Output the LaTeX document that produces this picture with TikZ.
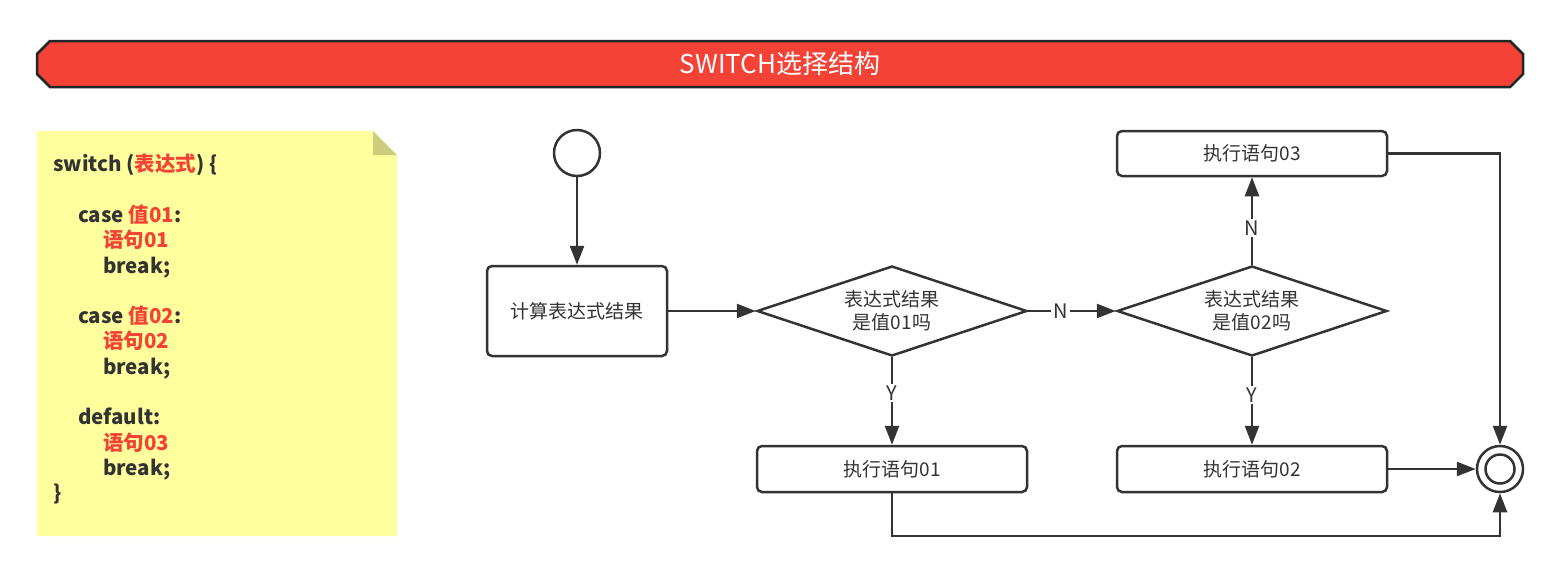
\documentclass[tikz,border=0pt]{standalone}
\usepackage{fontspec}
\setmainfont{Noto Sans CJK SC}
\usetikzlibrary{arrows.meta,shapes.geometric}
\definecolor{linegray}{HTML}{333333}
\definecolor{bannerred}{HTML}{F44336}
\definecolor{bannerline}{HTML}{1F272B}
\definecolor{noteyellow}{HTML}{FFFF9E}
\definecolor{notefold}{HTML}{CCCC7A}
\newcommand{\redtxt}[1]{\textcolor{bannerred}{#1}}

\begin{document}
\begin{tikzpicture}[x=1pt,y=-1pt,
    flow/.style={draw=linegray,line width=2.5pt,-{Triangle[length=19pt,width=14pt]}},
    stepbox/.style={draw=linegray,line width=2.5pt,rounded corners=5pt,minimum width=270pt,minimum height=46pt,inner sep=0pt,text=linegray,font=\fontsize{19}{23}\selectfont},
    choice/.style={diamond,aspect=3,draw=linegray,line width=2.5pt,minimum width=270pt,minimum height=90pt,inner sep=0pt,align=center,text=linegray,font=\fontsize{19}{23}\selectfont},
    startdot/.style={circle,draw=linegray,line width=2.5pt,minimum size=46pt,inner sep=0pt},
    stopcore/.style={circle,draw=linegray,line width=2.5pt,minimum size=29pt,inner sep=0pt},
    lbl/.style={fill=white,inner sep=2pt,text=linegray,font=\fontsize{20}{22}\selectfont}]
    \pgfmathsetmacro{\chamfer}{13}
    \pgfmathsetmacro{\codeindent}{25}
    \pgfmathsetmacro{\codeindentb}{50}
    \useasboundingbox (0,0) rectangle (1560,582);
    % banner
    \filldraw[fill=bannerred,draw=bannerline,line width=2.5pt] (37,41+\chamfer) -- (37+\chamfer,41) -- (1523-\chamfer,41) -- (1523,41+\chamfer) -- (1523,87-\chamfer) -- (1523-\chamfer,87) -- (37+\chamfer,87) -- (37,87-\chamfer) -- cycle;
    \node[text=white,font=\fontsize{26}{30}\selectfont] (title) at (780,64) {SWITCH选择结构};
    % note
    \fill[noteyellow] (37,131) -- (373,131) -- (397,155) -- (397,536) -- (37,536) -- cycle;
    \fill[notefold] (373,131) -- (397,155) -- (373,155) -- cycle;
    \node[anchor=north west,inner sep=0pt,align=left,text=linegray,font=\fontsize{20.5}{25.3}\selectfont\bfseries] (code) at (53,154) {
        switch (\redtxt{表达式}) \{\\
        \mbox{}\\
        \hspace*{\codeindent pt}case \redtxt{值01}:\\
        \hspace*{\codeindentb pt}\redtxt{语句01}\\
        \hspace*{\codeindentb pt}break;\\
        \mbox{}\\
        \hspace*{\codeindent pt}case \redtxt{值02}:\\
        \hspace*{\codeindentb pt}\redtxt{语句02}\\
        \hspace*{\codeindentb pt}break;\\
        \mbox{}\\
        \hspace*{\codeindent pt}default:\\
        \hspace*{\codeindentb pt}\redtxt{语句03}\\
        \hspace*{\codeindentb pt}break;\\
        \}};
    % flow
    \node[startdot] (start) at (577,153) {};
    \node[stepbox,minimum width=180pt,minimum height=90pt] (calc) at (577,311) {计算表达式结果};
    \node[choice] (ask1) at (892,311) {表达式结果\\是值01吗};
    \node[choice] (ask2) at (1252,311) {表达式结果\\是值02吗};
    \node[stepbox] (run1) at (892,469) {执行语句01};
    \node[stepbox] (run2) at (1252,469) {执行语句02};
    \node[stepbox,minimum height=45pt] (run3) at (1252,153.5) {执行语句03};
    \node[startdot] (stop) at (1500,469) {};
    \node[stopcore] (core) at (stop) {};
    \coordinate (back) at (1500,536);
    \draw[flow] (start) -- (calc);
    \draw[flow] (calc) -- (ask1);
    \draw[flow] (ask1) -- node[lbl,pos=0.37] {N} (ask2);
    \draw[flow] (ask1) -- node[lbl,pos=0.41] {Y} (run1);
    \draw[flow] (ask2) -- node[lbl,pos=0.42] {N} (run3);
    \draw[flow] (ask2) -- node[lbl,pos=0.43] {Y} (run2);
    \draw[flow] (run3) -| (stop);
    \draw[flow] (run2) -- (stop);
    \draw[flow] (run1) |- (back) -- (stop);
\end{tikzpicture}
\end{document}
